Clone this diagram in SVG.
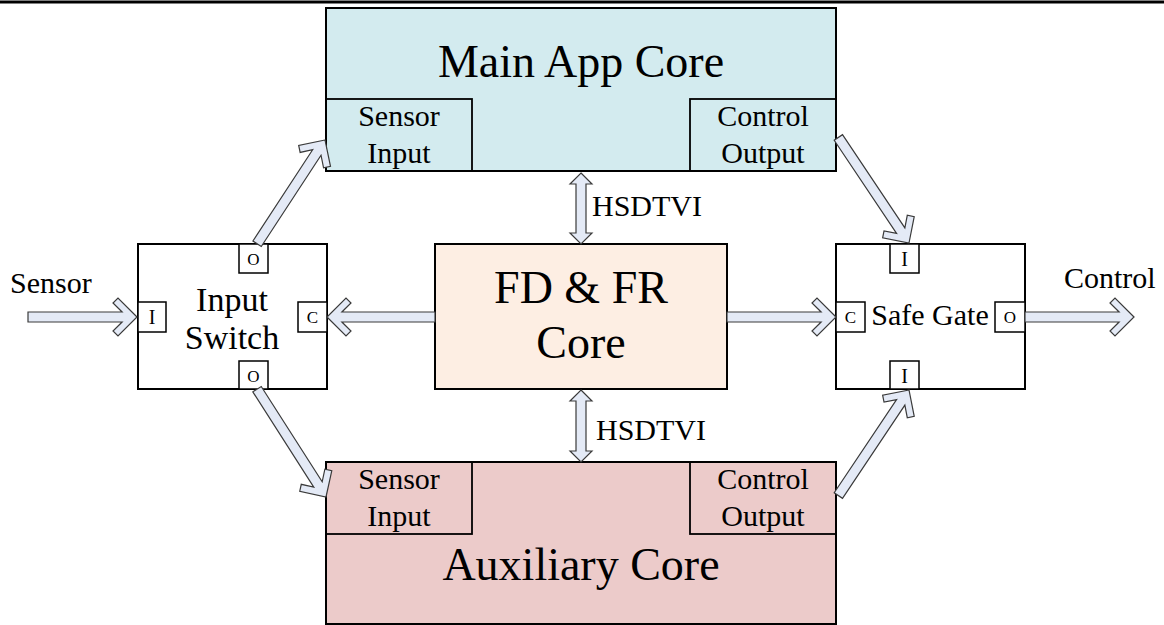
<svg xmlns="http://www.w3.org/2000/svg" width="1164" height="625" viewBox="0 0 1164 625">
<style>
text{font-family:"Liberation Serif","Times New Roman",serif;fill:#000}
.box{stroke:#000;stroke-width:2}
.port{fill:#fff;stroke:#000;stroke-width:1.5}
.sub{fill:none;stroke:#000;stroke-width:1.8}
.arr{fill:#E4EAF6;stroke:#3a3a3a;stroke-width:1.2;stroke-linejoin:miter}
.t46{font-size:46px;text-anchor:middle}
.t35{font-size:34px;text-anchor:middle}
.t30{font-size:30px}
.c30{font-size:30px;text-anchor:middle}
.p20{font-size:20px;text-anchor:middle}
.p17{font-size:17px;text-anchor:middle}
</style>
<line x1="0" y1="2" x2="1164" y2="2" stroke="#000" stroke-width="3"/>

<g id="main-app-core">
<rect class="box" x="326" y="8" width="510" height="163" fill="#D3EBEF"/>
<rect class="sub" x="326" y="99" width="146" height="72"/>
<rect class="sub" x="690" y="99" width="146" height="72"/>
<text class="t46" x="581" y="77">Main App Core</text>
<text class="c30" x="399" y="126">Sensor</text>
<text class="c30" x="399" y="163">Input</text>
<text class="c30" x="763" y="126">Control</text>
<text class="c30" x="763" y="163">Output</text>
</g>

<g id="fd-fr-core">
<rect class="box" x="435" y="244" width="292" height="145" fill="#FDEEE3"/>
<text class="t46" x="581" y="303">FD &amp; FR</text>
<text class="t46" x="581" y="358">Core</text>
</g>

<g id="auxiliary-core">
<rect class="box" x="326" y="462" width="510" height="162" fill="#ECCBCA"/>
<rect class="sub" x="326" y="462" width="146" height="72"/>
<rect class="sub" x="690" y="462" width="146" height="72"/>
<text class="t46" x="581" y="580">Auxiliary Core</text>
<text class="c30" x="399" y="489">Sensor</text>
<text class="c30" x="399" y="526">Input</text>
<text class="c30" x="763" y="489">Control</text>
<text class="c30" x="763" y="526">Output</text>
</g>

<g id="input-switch">
<rect class="box" x="138" y="244" width="189" height="145" fill="#fff"/>
<text class="t35" x="232" y="311">Input</text>
<text class="t35" x="232" y="349">Switch</text>
<rect class="port" x="239" y="244" width="29" height="29"/>
<text class="p17" x="253.5" y="265">O</text>
<rect class="port" x="138" y="302" width="28" height="30"/>
<text class="p20" x="152" y="324">I</text>
<rect class="port" x="298" y="302" width="29" height="30"/>
<text class="p17" x="312.5" y="323">C</text>
<rect class="port" x="239" y="361" width="29" height="28"/>
<text class="p17" x="253.5" y="382">O</text>
</g>

<g id="safe-gate">
<rect class="box" x="836" y="244" width="189" height="145" fill="#fff"/>
<text class="t30" x="930" y="325" text-anchor="middle">Safe Gate</text>
<rect class="port" x="890" y="244" width="29" height="29"/>
<text class="p20" x="904.5" y="266">I</text>
<rect class="port" x="836" y="302" width="29" height="30"/>
<text class="p17" x="850.5" y="323">C</text>
<rect class="port" x="995" y="302" width="30" height="30"/>
<text class="p17" x="1010" y="323">O</text>
<rect class="port" x="890" y="361" width="29" height="28"/>
<text class="p20" x="904.5" y="383">I</text>
</g>

<g id="connectors">
<path class="arr" transform="translate(137,317)" d="M0,0 L-19,-19 L-24,-14 L-14.9,-5 L-109,-5 L-109,5 L-14.9,5 L-24,14 L-19,19 Z"/>
<path class="arr" transform="translate(327,317) rotate(180)" d="M0,0 L-19,-19 L-24,-14 L-14.9,-5 L-108,-5 L-108,5 L-14.9,5 L-24,14 L-19,19 Z"/>
<path class="arr" transform="translate(836,317)" d="M0,0 L-19,-19 L-24,-14 L-14.9,-5 L-109,-5 L-109,5 L-14.9,5 L-24,14 L-19,19 Z"/>
<path class="arr" transform="translate(1134,317)" d="M0,0 L-19,-19 L-24,-14 L-14.9,-5 L-109,-5 L-109,5 L-14.9,5 L-24,14 L-19,19 Z"/>
<path class="arr" transform="translate(325,140) rotate(-56.8)" d="M0,0 L-19,-19 L-24,-14 L-14.9,-5 L-124,-5 L-124,5 L-14.9,5 L-24,14 L-19,19 Z"/>
<path class="arr" transform="translate(326,497) rotate(57.4)" d="M0,0 L-19,-19 L-24,-14 L-14.9,-5 L-128,-5 L-128,5 L-14.9,5 L-24,14 L-19,19 Z"/>
<path class="arr" transform="translate(909,243) rotate(56.2)" d="M0,0 L-19,-19 L-24,-14 L-14.9,-5 L-127,-5 L-127,5 L-14.9,5 L-24,14 L-19,19 Z"/>
<path class="arr" transform="translate(909,390) rotate(-56.2)" d="M0,0 L-19,-19 L-24,-14 L-14.9,-5 L-127,-5 L-127,5 L-14.9,5 L-24,14 L-19,19 Z"/>
<path class="arr" d="M581,173 L592,184 L586,184 L586,233 L592,233 L581,244 L570,233 L576,233 L576,184 L570,184 Z"/>
<path class="arr" d="M581,390 L592,401 L586,401 L586,451 L592,451 L581,462 L570,451 L576,451 L576,401 L570,401 Z"/>
<text class="t30" x="592" y="216">HSDTVI</text>
<text class="t30" x="596" y="440">HSDTVI</text>
<text class="t30" x="10" y="293">Sensor</text>
<text class="t30" x="1064" y="288">Control</text>
</g>
</svg>
